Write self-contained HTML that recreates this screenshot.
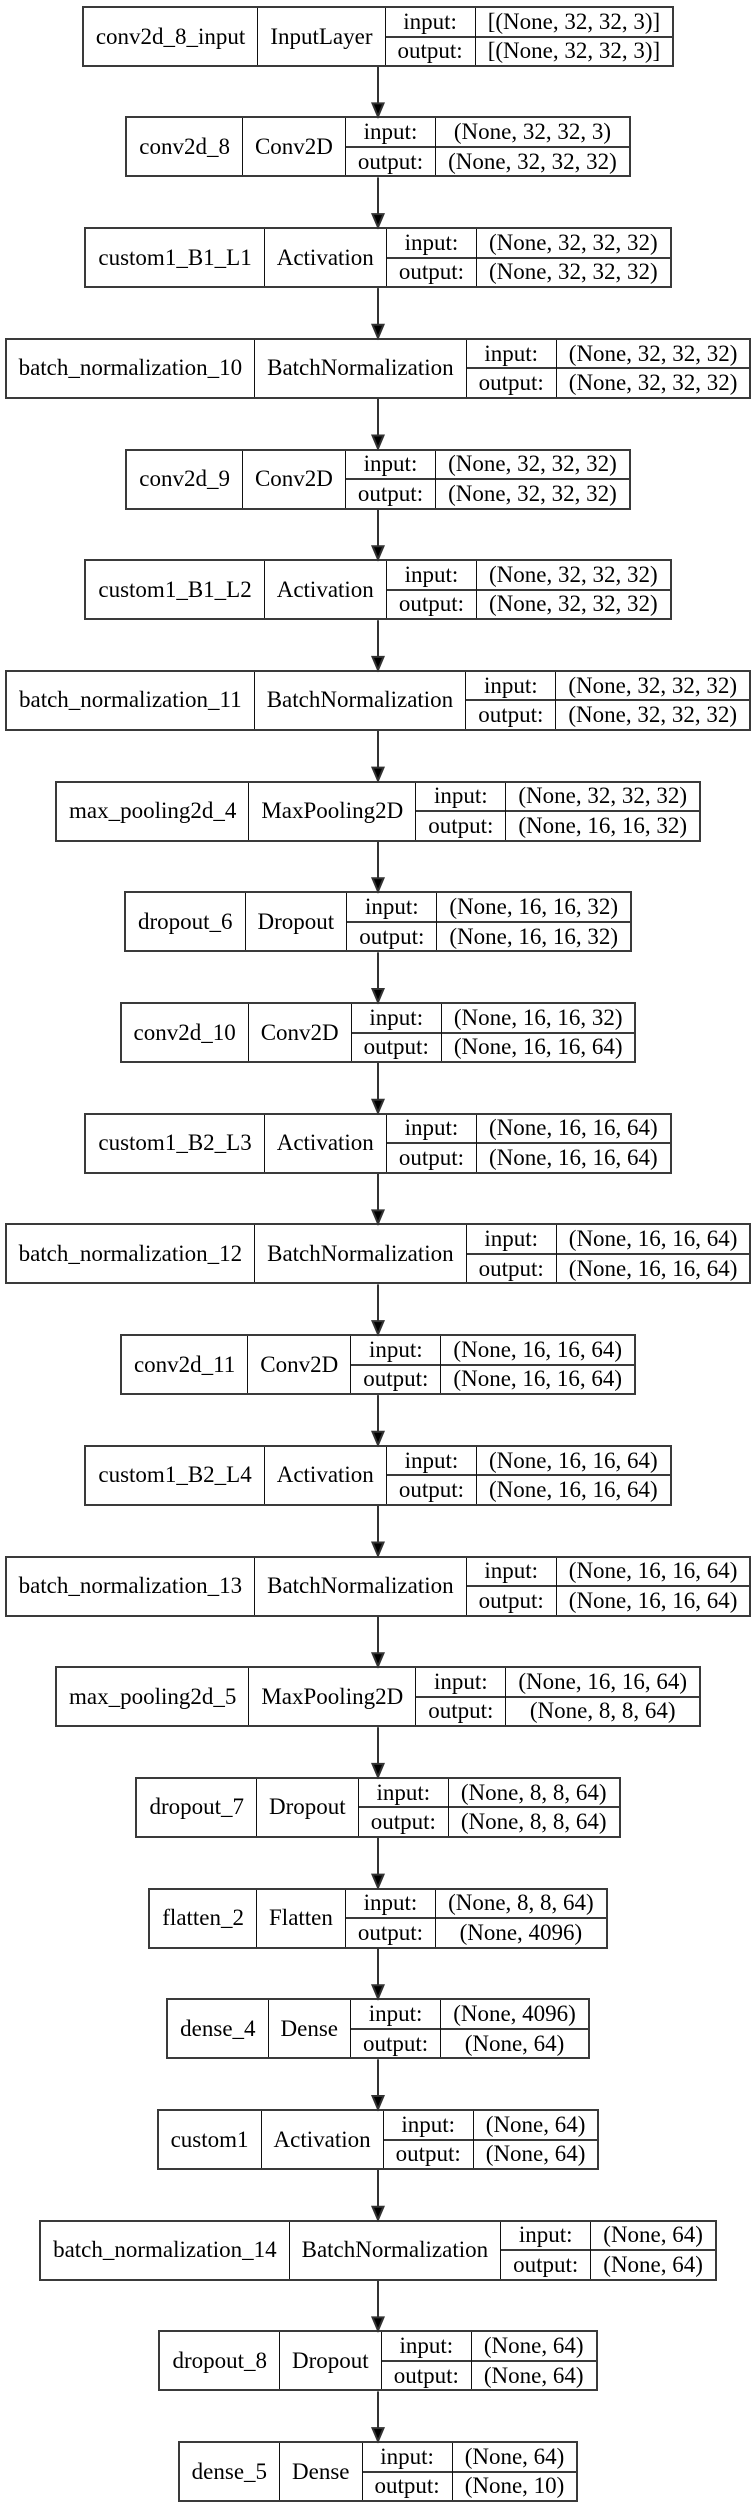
<!DOCTYPE html>
<html><head><meta charset="utf-8"><style>
html,body{margin:0;padding:0;background:#fff;}
body{width:756px;height:2508px;position:relative;overflow:hidden;font-family:"Liberation Serif",serif;font-size:23px;color:#000;}
.n{position:absolute;left:0;width:756px;height:61px;display:flex;justify-content:center;}
.b{height:61px;box-sizing:border-box;border:2px solid #3a3a3a;display:flex;background:#fff;}
.c{display:flex;align-items:center;justify-content:center;padding:0 12px;white-space:nowrap;border-left:1px solid #111;}
.c:first-child{border-left:none;}
.col{display:flex;flex-direction:column;border-left:1px solid #111;}
.col div{flex:1;display:flex;align-items:center;justify-content:center;padding:0 12px;white-space:nowrap;}
.col div+div{border-top:2px solid #3a3a3a;}
svg{position:absolute;left:0;top:0;}
</style></head><body>
<svg width="756" height="2508" id="s"></svg>
<div id="g"></div>
<script></script>
<div class="n" style="top:6px"><div class="b"><div class="c">conv2d_8_input</div><div class="c">InputLayer</div><div class="col"><div>input:</div><div>output:</div></div><div class="col"><div>[(None, 32, 32, 3)]</div><div>[(None, 32, 32, 3)]</div></div></div></div>
<div class="n" style="top:116.4px"><div class="b"><div class="c">conv2d_8</div><div class="c">Conv2D</div><div class="col"><div>input:</div><div>output:</div></div><div class="col"><div>(None, 32, 32, 3)</div><div>(None, 32, 32, 32)</div></div></div></div>
<div class="n" style="top:227.1px"><div class="b"><div class="c">custom1_B1_L1</div><div class="c">Activation</div><div class="col"><div>input:</div><div>output:</div></div><div class="col"><div>(None, 32, 32, 32)</div><div>(None, 32, 32, 32)</div></div></div></div>
<div class="n" style="top:337.8px"><div class="b"><div class="c">batch_normalization_10</div><div class="c">BatchNormalization</div><div class="col"><div>input:</div><div>output:</div></div><div class="col"><div>(None, 32, 32, 32)</div><div>(None, 32, 32, 32)</div></div></div></div>
<div class="n" style="top:448.5px"><div class="b"><div class="c">conv2d_9</div><div class="c">Conv2D</div><div class="col"><div>input:</div><div>output:</div></div><div class="col"><div>(None, 32, 32, 32)</div><div>(None, 32, 32, 32)</div></div></div></div>
<div class="n" style="top:559.2px"><div class="b"><div class="c">custom1_B1_L2</div><div class="c">Activation</div><div class="col"><div>input:</div><div>output:</div></div><div class="col"><div>(None, 32, 32, 32)</div><div>(None, 32, 32, 32)</div></div></div></div>
<div class="n" style="top:669.9px"><div class="b"><div class="c">batch_normalization_11</div><div class="c">BatchNormalization</div><div class="col"><div>input:</div><div>output:</div></div><div class="col"><div>(None, 32, 32, 32)</div><div>(None, 32, 32, 32)</div></div></div></div>
<div class="n" style="top:780.6px"><div class="b"><div class="c">max_pooling2d_4</div><div class="c">MaxPooling2D</div><div class="col"><div>input:</div><div>output:</div></div><div class="col"><div>(None, 32, 32, 32)</div><div>(None, 16, 16, 32)</div></div></div></div>
<div class="n" style="top:891.3px"><div class="b"><div class="c">dropout_6</div><div class="c">Dropout</div><div class="col"><div>input:</div><div>output:</div></div><div class="col"><div>(None, 16, 16, 32)</div><div>(None, 16, 16, 32)</div></div></div></div>
<div class="n" style="top:1002px"><div class="b"><div class="c">conv2d_10</div><div class="c">Conv2D</div><div class="col"><div>input:</div><div>output:</div></div><div class="col"><div>(None, 16, 16, 32)</div><div>(None, 16, 16, 64)</div></div></div></div>
<div class="n" style="top:1112.7px"><div class="b"><div class="c">custom1_B2_L3</div><div class="c">Activation</div><div class="col"><div>input:</div><div>output:</div></div><div class="col"><div>(None, 16, 16, 64)</div><div>(None, 16, 16, 64)</div></div></div></div>
<div class="n" style="top:1223.4px"><div class="b"><div class="c">batch_normalization_12</div><div class="c">BatchNormalization</div><div class="col"><div>input:</div><div>output:</div></div><div class="col"><div>(None, 16, 16, 64)</div><div>(None, 16, 16, 64)</div></div></div></div>
<div class="n" style="top:1334.1px"><div class="b"><div class="c">conv2d_11</div><div class="c">Conv2D</div><div class="col"><div>input:</div><div>output:</div></div><div class="col"><div>(None, 16, 16, 64)</div><div>(None, 16, 16, 64)</div></div></div></div>
<div class="n" style="top:1444.8px"><div class="b"><div class="c">custom1_B2_L4</div><div class="c">Activation</div><div class="col"><div>input:</div><div>output:</div></div><div class="col"><div>(None, 16, 16, 64)</div><div>(None, 16, 16, 64)</div></div></div></div>
<div class="n" style="top:1555.5px"><div class="b"><div class="c">batch_normalization_13</div><div class="c">BatchNormalization</div><div class="col"><div>input:</div><div>output:</div></div><div class="col"><div>(None, 16, 16, 64)</div><div>(None, 16, 16, 64)</div></div></div></div>
<div class="n" style="top:1666.2px"><div class="b"><div class="c">max_pooling2d_5</div><div class="c">MaxPooling2D</div><div class="col"><div>input:</div><div>output:</div></div><div class="col"><div>(None, 16, 16, 64)</div><div>(None, 8, 8, 64)</div></div></div></div>
<div class="n" style="top:1776.9px"><div class="b"><div class="c">dropout_7</div><div class="c">Dropout</div><div class="col"><div>input:</div><div>output:</div></div><div class="col"><div>(None, 8, 8, 64)</div><div>(None, 8, 8, 64)</div></div></div></div>
<div class="n" style="top:1887.6px"><div class="b"><div class="c">flatten_2</div><div class="c">Flatten</div><div class="col"><div>input:</div><div>output:</div></div><div class="col"><div>(None, 8, 8, 64)</div><div>(None, 4096)</div></div></div></div>
<div class="n" style="top:1998.3px"><div class="b"><div class="c">dense_4</div><div class="c">Dense</div><div class="col"><div>input:</div><div>output:</div></div><div class="col"><div>(None, 4096)</div><div>(None, 64)</div></div></div></div>
<div class="n" style="top:2109px"><div class="b"><div class="c">custom1</div><div class="c">Activation</div><div class="col"><div>input:</div><div>output:</div></div><div class="col"><div>(None, 64)</div><div>(None, 64)</div></div></div></div>
<div class="n" style="top:2219.7px"><div class="b"><div class="c">batch_normalization_14</div><div class="c">BatchNormalization</div><div class="col"><div>input:</div><div>output:</div></div><div class="col"><div>(None, 64)</div><div>(None, 64)</div></div></div></div>
<div class="n" style="top:2330.4px"><div class="b"><div class="c">dropout_8</div><div class="c">Dropout</div><div class="col"><div>input:</div><div>output:</div></div><div class="col"><div>(None, 64)</div><div>(None, 64)</div></div></div></div>
<div class="n" style="top:2441.1px"><div class="b"><div class="c">dense_5</div><div class="c">Dense</div><div class="col"><div>input:</div><div>output:</div></div><div class="col"><div>(None, 64)</div><div>(None, 10)</div></div></div></div>
<svg width="756" height="2508" style="pointer-events:none">
<g stroke="#333" stroke-width="2" fill="#000">
<line x1="378" y1="67" x2="378" y2="104"/><polygon points="372.5,103.4 383.5,103.4 378,116.4"/>
<line x1="378" y1="177.4" x2="378" y2="214.7"/><polygon points="372.5,214.1 383.5,214.1 378,227.1"/>
<line x1="378" y1="288.1" x2="378" y2="325.4"/><polygon points="372.5,324.8 383.5,324.8 378,337.8"/>
<line x1="378" y1="398.8" x2="378" y2="436.1"/><polygon points="372.5,435.5 383.5,435.5 378,448.5"/>
<line x1="378" y1="509.5" x2="378" y2="546.8"/><polygon points="372.5,546.2 383.5,546.2 378,559.2"/>
<line x1="378" y1="620.2" x2="378" y2="657.5"/><polygon points="372.5,656.9 383.5,656.9 378,669.9"/>
<line x1="378" y1="730.9" x2="378" y2="768.2"/><polygon points="372.5,767.6 383.5,767.6 378,780.6"/>
<line x1="378" y1="841.6" x2="378" y2="878.9"/><polygon points="372.5,878.3 383.5,878.3 378,891.3"/>
<line x1="378" y1="952.3" x2="378" y2="989.6"/><polygon points="372.5,989 383.5,989 378,1002"/>
<line x1="378" y1="1063" x2="378" y2="1100.3"/><polygon points="372.5,1099.7 383.5,1099.7 378,1112.7"/>
<line x1="378" y1="1173.7" x2="378" y2="1211"/><polygon points="372.5,1210.4 383.5,1210.4 378,1223.4"/>
<line x1="378" y1="1284.4" x2="378" y2="1321.7"/><polygon points="372.5,1321.1 383.5,1321.1 378,1334.1"/>
<line x1="378" y1="1395.1" x2="378" y2="1432.4"/><polygon points="372.5,1431.8 383.5,1431.8 378,1444.8"/>
<line x1="378" y1="1505.8" x2="378" y2="1543.1"/><polygon points="372.5,1542.5 383.5,1542.5 378,1555.5"/>
<line x1="378" y1="1616.5" x2="378" y2="1653.8"/><polygon points="372.5,1653.2 383.5,1653.2 378,1666.2"/>
<line x1="378" y1="1727.2" x2="378" y2="1764.5"/><polygon points="372.5,1763.9 383.5,1763.9 378,1776.9"/>
<line x1="378" y1="1837.9" x2="378" y2="1875.2"/><polygon points="372.5,1874.6 383.5,1874.6 378,1887.6"/>
<line x1="378" y1="1948.6" x2="378" y2="1985.9"/><polygon points="372.5,1985.3 383.5,1985.3 378,1998.3"/>
<line x1="378" y1="2059.3" x2="378" y2="2096.6"/><polygon points="372.5,2096 383.5,2096 378,2109"/>
<line x1="378" y1="2170" x2="378" y2="2207.3"/><polygon points="372.5,2206.7 383.5,2206.7 378,2219.7"/>
<line x1="378" y1="2280.7" x2="378" y2="2318"/><polygon points="372.5,2317.4 383.5,2317.4 378,2330.4"/>
<line x1="378" y1="2391.4" x2="378" y2="2428.7"/><polygon points="372.5,2428.1 383.5,2428.1 378,2441.1"/>
</g></svg>
</body></html>
